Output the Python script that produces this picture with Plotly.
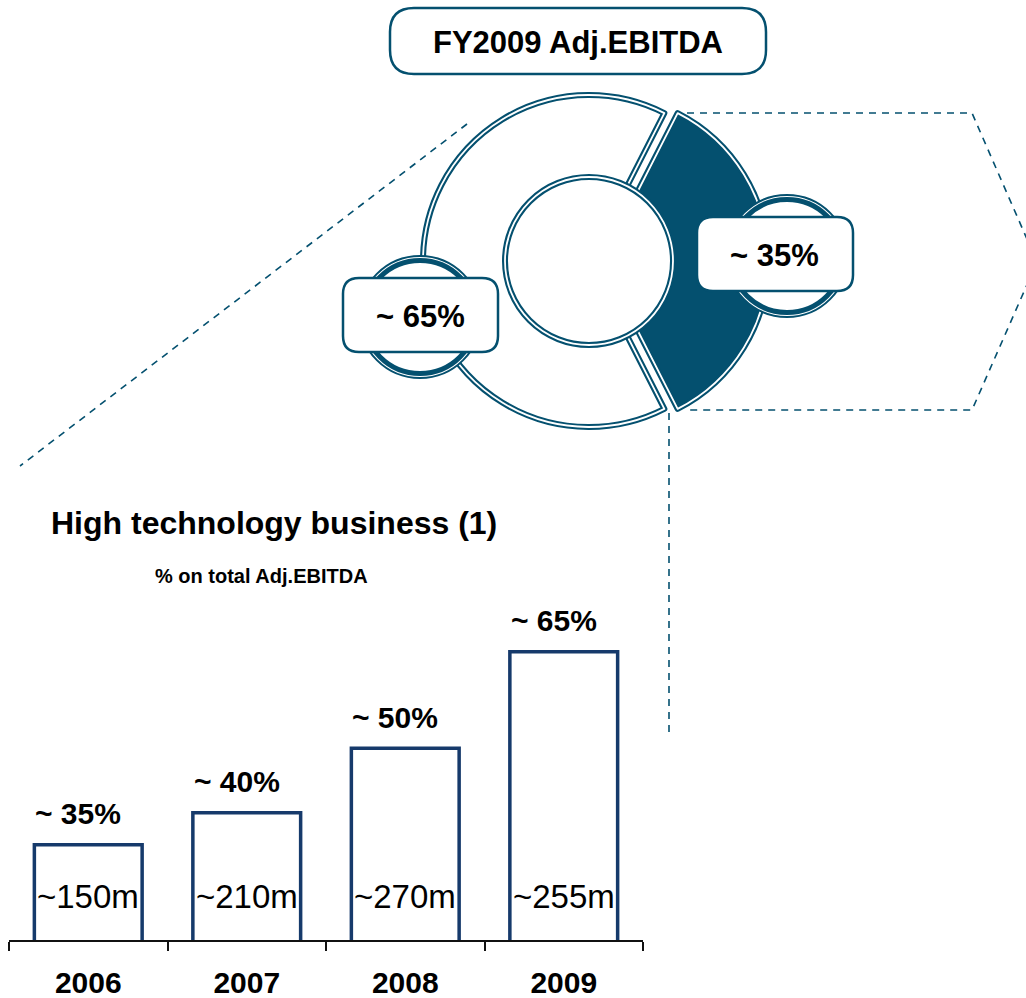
import plotly.graph_objects as go

# ---------------- data ----------------
segment_names = ["High technology business", "Other businesses"]
segment_pct = [65, 35]                     # FY2009 share of Adj.EBITDA

years = ["2006", "2007", "2008", "2009"]
share_pct = [35, 40, 50, 65]               # high-tech share of total Adj.EBITDA
ebitda_m = [150, 210, 270, 255]            # high-tech Adj.EBITDA, EUR m

# ---------------- styling ----------------
W, H = 1026, 998
TEAL = "#04506f"
NAVY = "#163a6b"
FONT = "Liberation Sans, Arial, sans-serif"

fig = go.Figure()

# ---------------- donut ----------------
CX, CY = 589, 261          # donut centre (px)
R_OUT = 166                # outer radius of the slice path (px)
PULL = [0, 0.08]
half = R_OUT * (1 + max(PULL))
dom = dict(x=[(CX - half) / W, (CX + half) / W],
           y=[1 - (CY + half) / H, 1 - (CY - half) / H])
# first slice centred on the left: it starts (clockwise) below the left side
light_half = segment_pct[0] / sum(segment_pct) * 180
rotation = 90 - (180 + light_half)

pie_common = dict(values=segment_pct, labels=segment_names, sort=False,
                  direction="clockwise", rotation=rotation, hole=0.35,
                  pull=PULL, domain=dom, textinfo="none", hoverinfo="skip",
                  showlegend=False)
# thick outline first, thin white line on top -> double-line border
fig.add_trace(go.Pie(marker=dict(colors=["white", TEAL],
                                 line=dict(color=TEAL, width=6)), **pie_common))
fig.add_trace(go.Pie(marker=dict(colors=["rgba(0,0,0,0)"] * 2,
                                 line=dict(color="white", width=1.8)), **pie_common))

# ---------------- bar chart ----------------
Y_FLOOR = 20.2
PX_PER_PCT = 6.433
AX_BOTTOM, AX_TOP = 940, 600
y_top = Y_FLOOR + (AX_BOTTOM - AX_TOP) / PX_PER_PCT

fig.add_trace(go.Bar(x=years, y=share_pct, width=0.68,
                     marker=dict(color="white", line=dict(color=NAVY, width=3.5)),
                     hoverinfo="skip", showlegend=False, xaxis="x", yaxis="y"))

# empty trace so the full-page pixel canvas (x2/y2) exists
fig.add_trace(go.Scatter(x=[], y=[], xaxis="x2", yaxis="y2", showlegend=False))

annotations = []
for i, (pct, m) in enumerate(zip(share_pct, ebitda_m)):
    annotations.append(dict(x=i, y=pct, xref="x", yref="y", text=f"~ {pct}%",
                            showarrow=False, xanchor="center", yanchor="middle",
                            xshift=-10, yshift=31,
                            font=dict(family=FONT, size=30, color="black", weight="bold")))
    annotations.append(dict(x=i, y=Y_FLOOR + 0.01, xref="x", yref="y", text=f"~{m}m",
                            showarrow=False, xanchor="center", yanchor="middle",
                            yshift=43,
                            font=dict(family=FONT, size=33, color="black")))


def px_text(x, y, text, size, bold=True, xanchor="center"):
    return dict(x=x, y=y, xref="x2", yref="y2", text=text, showarrow=False,
                xanchor=xanchor, yanchor="middle",
                font=dict(family=FONT, size=size, color="black",
                          weight="bold" if bold else "normal"))


annotations += [
    px_text(578, 42, "FY2009 Adj.EBITDA", 31),
    px_text(420, 316, f"~ {segment_pct[0]}%", 31),
    px_text(774, 255, f"~ {segment_pct[1]}%", 31),
    px_text(49, 523, "High technology business (1)", 32, xanchor="left"),
    px_text(261, 576, "% on total Adj.EBITDA", 20),
]

# ---------------- decorative shapes (pixel canvas) ----------------
def rounded_rect(x0, y0, x1, y1, r):
    return (f"M{x0 + r},{y0} L{x1 - r},{y0} Q{x1},{y0} {x1},{y0 + r} "
            f"L{x1},{y1 - r} Q{x1},{y1} {x1 - r},{y1} L{x0 + r},{y1} "
            f"Q{x0},{y1} {x0},{y1 - r} L{x0},{y0 + r} Q{x0},{y0} {x0 + r},{y0} Z")


def circle(cx, cy, r, color, width, fill="rgba(0,0,0,0)"):
    return dict(type="circle", xref="x2", yref="y2", x0=cx - r, x1=cx + r,
                y0=cy - r, y1=cy + r, line=dict(color=color, width=width),
                fillcolor=fill, layer="above")


def box(x0, y0, x1, y1, r, width=2.5):
    return dict(type="path", xref="x2", yref="y2", path=rounded_rect(x0, y0, x1, y1, r),
                line=dict(color=TEAL, width=width), fillcolor="white", layer="above")


def dashed(points):
    path = "M" + " L".join(f"{x},{y}" for x, y in points)
    return dict(type="path", xref="x2", yref="y2", path=path,
                line=dict(color=TEAL, width=1.6, dash="7px,6px"), layer="above")


shapes = [
    # inner disc of the donut (double outline)
    circle(CX, CY, 84, TEAL, 6, fill="white"),
    circle(CX, CY, 84, "white", 1.8),
    # label rings
    circle(420, 317, 61, TEAL, 2, fill="white"),
    circle(420, 317, 56.5, TEAL, 5),
    circle(787, 256, 61, TEAL, 2, fill="white"),
    circle(787, 256, 56.5, TEAL, 5),
    # label boxes
    box(343, 278, 498, 352, 16),
    box(697, 217, 853, 291, 16),
    box(390, 8, 766, 74, 24),
    # connector lines
    dashed([(467, 124), (20, 466)]),
    dashed([(687, 113), (972, 113), (1037, 262), (972, 410), (687, 410)]),
    dashed([(669, 413), (669, 736)]),
]

fig.update_layout(
    width=W, height=H,
    margin=dict(l=0, r=0, t=0, b=0),
    paper_bgcolor="white", plot_bgcolor="rgba(0,0,0,0)",
    hovermode=False, showlegend=False,
    font=dict(family=FONT),
    xaxis=dict(domain=[9 / W, 643 / W], type="category", range=[-0.5, 3.5],
               showline=True, linecolor="#111111", linewidth=1.5,
               ticks="outside", tickson="boundaries", ticklen=9, tickwidth=1.5,
               tickcolor="#111111", ticklabelstandoff=15,
               tickfont=dict(family=FONT, size=30, color="black", weight="bold"),
               showgrid=False, zeroline=False, fixedrange=True, anchor="y"),
    yaxis=dict(domain=[1 - AX_BOTTOM / H, 1 - AX_TOP / H], range=[Y_FLOOR, y_top],
               visible=False, fixedrange=True, anchor="x"),
    xaxis2=dict(domain=[0, 1], range=[0, W], visible=False, anchor="y2", fixedrange=True),
    yaxis2=dict(domain=[0, 1], range=[H, 0], visible=False, anchor="x2", fixedrange=True),
    annotations=annotations,
    shapes=shapes,
)

fig.write_html("out.html")
